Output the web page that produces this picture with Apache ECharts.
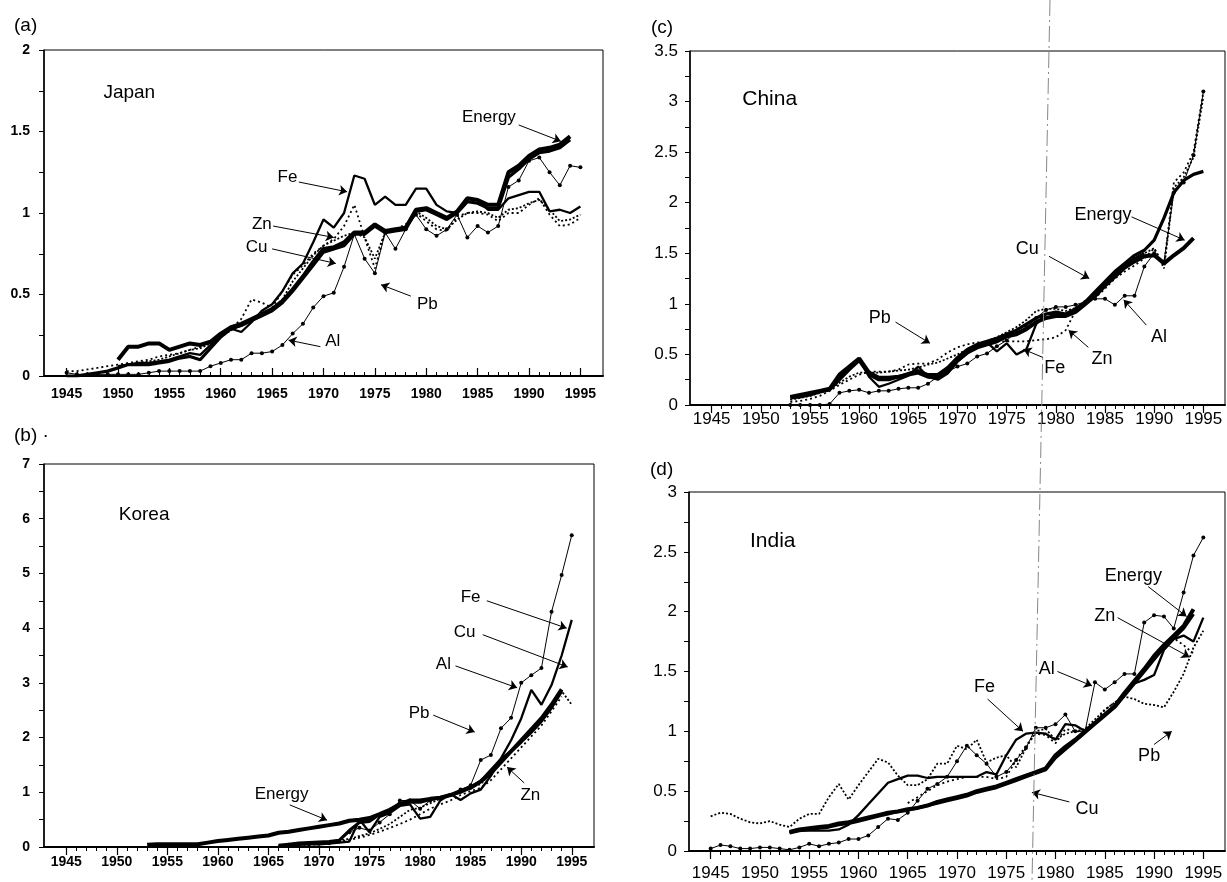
<!DOCTYPE html>
<html>
<head>
<meta charset="utf-8">
<script src="https://cdn.jsdelivr.net/npm/echarts@6/dist/echarts.min.js"></script>
<style>
  html, body { margin: 0; padding: 0; background: #fff; }
  #chart { width: 1227px; height: 882px; }
</style>
</head>
<body>
<div id="chart"></div>
<script>
  // x axis: labelled years and yearly ticks
  const yearLabels = [1945, 1950, 1955, 1960, 1965, 1970, 1975, 1980, 1985, 1990, 1995]
  const tickYears = []
  for (let y = 1945; y <= 1995; y++) tickYears.push(y)

  // (a) Japan
  const jpEnergy = [0.10, 0.18, 0.18, 0.20, 0.20, 0.16, 0.18, 0.20, 0.19, 0.21, 0.26, 0.30, 0.32, 0.35, 0.38, 0.41, 0.46, 0.53, 0.61, 0.70, 0.78, 0.79, 0.82, 0.88, 0.88, 0.93, 0.89, 0.90, 0.91, 1.02, 1.03, 1.00, 0.97, 1.01, 1.09, 1.08, 1.05, 1.05, 1.25, 1.29, 1.35, 1.39, 1.40, 1.42, 1.47] // 1950-1994
  const jpCu = [0.00, 0.00, 0.01, 0.02, 0.03, 0.05, 0.07, 0.07, 0.07, 0.08, 0.09, 0.11, 0.12, 0.10, 0.17, 0.24, 0.29, 0.31, 0.34, 0.37, 0.40, 0.45, 0.52, 0.60, 0.68, 0.76, 0.78, 0.80, 0.87, 0.87, 0.92, 0.88, 0.89, 0.90, 1.01, 1.02, 0.99, 0.96, 1.00, 1.07, 1.06, 1.03, 1.03, 1.22, 1.27, 1.33, 1.37, 1.38, 1.40, 1.45] // 1945-1994
  const jpFe = [0.06, 0.07, 0.08, 0.08, 0.09, 0.10, 0.12, 0.14, 0.13, 0.19, 0.25, 0.29, 0.27, 0.33, 0.40, 0.44, 0.52, 0.63, 0.69, 0.82, 0.96, 0.91, 1.00, 1.23, 1.21, 1.05, 1.10, 1.05, 1.05, 1.15, 1.15, 1.05, 1.01, 1.00, 1.09, 1.08, 1.02, 1.02, 1.09, 1.11, 1.13, 1.13, 1.01, 1.02, 1.00, 1.04] // 1950-1995
  const jpZn = [0.03, 0.03, 0.04, 0.05, 0.06, 0.07, 0.08, 0.09, 0.10, 0.12, 0.13, 0.14, 0.16, 0.18, 0.21, 0.25, 0.29, 0.35, 0.47, 0.45, 0.42, 0.52, 0.62, 0.68, 0.75, 0.80, 0.84, 0.92, 1.05, 0.85, 0.66, 0.88, 0.90, 0.93, 1.00, 0.95, 0.90, 0.89, 0.98, 1.00, 1.00, 0.99, 0.95, 1.00, 1.00, 1.05, 1.09, 0.99, 0.92, 0.93, 0.97] // 1945-1995
  const jpPb = [0.06, 0.07, 0.08, 0.09, 0.10, 0.12, 0.14, 0.16, 0.17, 0.20, 0.24, 0.28, 0.31, 0.35, 0.38, 0.41, 0.47, 0.58, 0.66, 0.74, 0.80, 0.83, 0.86, 0.88, 0.85, 0.72, 0.88, 0.89, 0.92, 1.01, 0.97, 0.92, 0.90, 0.96, 1.00, 1.01, 1.00, 0.97, 1.02, 1.03, 1.06, 1.08, 1.02, 0.95, 0.96, 0.99] // 1950-1995
  const jpAl = [0.02, 0.01, 0.01, 0.01, 0.01, 0.01, 0.01, 0.01, 0.02, 0.03, 0.03, 0.03, 0.03, 0.03, 0.06, 0.08, 0.10, 0.10, 0.14, 0.14, 0.15, 0.19, 0.26, 0.32, 0.42, 0.49, 0.51, 0.67, 0.87, 0.72, 0.63, 0.88, 0.78, 0.90, 0.99, 0.90, 0.86, 0.90, 0.99, 0.85, 0.92, 0.88, 0.92, 1.16, 1.20, 1.32, 1.34, 1.25, 1.17, 1.29, 1.28] // 1945-1995

  // (b) Korea
  const krEnergy = [0.04, 0.05, 0.05, 0.05, 0.05, 0.05, 0.08, 0.11, 0.13, 0.15, 0.17, 0.19, 0.21, 0.26, 0.28, 0.31, 0.34, 0.37, 0.40, 0.43, 0.48, 0.50, 0.53, 0.60, 0.68, 0.78, 0.85, 0.85, 0.88, 0.90, 0.95, 1.02, 1.08, 1.20, 1.35, 1.55, 1.75, 1.95, 2.15, 2.35, 2.60, 2.88] // 1953-1994
  const krCu = [0.03, 0.05, 0.07, 0.08, 0.09, 0.10, 0.12, 0.30, 0.45, 0.47, 0.60, 0.67, 0.80, 0.82, 0.82, 0.87, 0.90, 0.95, 1.00, 1.10, 1.20, 1.40, 1.60, 1.75, 1.92, 2.10, 2.30, 2.55, 2.85] // 1966-1994
  const krFe = [0.02, 0.03, 0.04, 0.05, 0.05, 0.06, 0.08, 0.10, 0.50, 0.27, 0.55, 0.62, 0.75, 0.78, 0.52, 0.55, 0.85, 0.97, 0.86, 0.98, 1.05, 1.30, 1.62, 1.95, 2.35, 2.87, 2.60, 2.96, 3.50, 4.15] // 1966-1995
  const krZn = [0.01, 0.02, 0.03, 0.04, 0.05, 0.07, 0.10, 0.13, 0.17, 0.22, 0.28, 0.35, 0.42, 0.50, 0.60, 0.70, 0.78, 0.85, 0.95, 1.02, 1.08, 1.22, 1.42, 1.62, 1.82, 2.02, 2.22, 2.48, 2.75] // 1966-1994
  const krPb = [0.02, 0.03, 0.04, 0.06, 0.08, 0.10, 0.12, 0.15, 0.20, 0.25, 0.33, 0.42, 0.55, 0.68, 0.72, 0.80, 0.88, 0.95, 1.00, 1.10, 1.15, 1.35, 1.55, 1.75, 1.95, 2.15, 2.35, 2.60, 2.85, 2.60] // 1966-1995
  const krAl = [0.04, 0.05, 0.05, 0.06, 0.07, 0.10, 0.27, 0.35, 0.30, 0.45, 0.60, 0.85, 0.85, 0.70, 0.85, 0.90, 0.95, 1.05, 1.13, 1.59, 1.68, 2.17, 2.36, 3.00, 3.14, 3.27, 4.30, 4.97, 5.70] // 1967-1995

  // (c) China
  const cnEnergy = [0.08, 0.10, 0.12, 0.14, 0.16, 0.30, 0.38, 0.46, 0.32, 0.27, 0.27, 0.28, 0.30, 0.32, 0.28, 0.27, 0.33, 0.44, 0.52, 0.57, 0.60, 0.63, 0.68, 0.70, 0.75, 0.82, 0.86, 0.88, 0.88, 0.92, 1.00, 1.08, 1.18, 1.27, 1.36, 1.42, 1.47, 1.48, 1.40, 1.48, 1.55, 1.65] // 1953-1994
  const cnCu = [0.07, 0.08, 0.10, 0.13, 0.15, 0.25, 0.35, 0.44, 0.30, 0.25, 0.25, 0.28, 0.31, 0.34, 0.30, 0.30, 0.37, 0.47, 0.55, 0.60, 0.63, 0.66, 0.70, 0.74, 0.80, 0.86, 0.90, 0.92, 0.90, 0.95, 1.02, 1.12, 1.22, 1.32, 1.40, 1.48, 1.53, 1.63, 1.85, 2.10, 2.22, 2.28, 2.31] // 1953-1995
  const cnFe = [0.08, 0.10, 0.12, 0.14, 0.16, 0.28, 0.37, 0.46, 0.28, 0.18, 0.21, 0.25, 0.29, 0.38, 0.28, 0.25, 0.31, 0.43, 0.51, 0.58, 0.62, 0.53, 0.61, 0.50, 0.55, 0.80, 0.90, 0.90, 0.89, 0.93, 1.01, 1.10, 1.20, 1.30, 1.38, 1.45, 1.50] // 1953-1989
  const cnZn = [0.03, 0.04, 0.06, 0.09, 0.14, 0.20, 0.25, 0.30, 0.33, 0.33, 0.33, 0.35, 0.40, 0.41, 0.41, 0.45, 0.52, 0.57, 0.60, 0.62, 0.62, 0.63, 0.63, 0.63, 0.63, 0.64, 0.65, 0.67, 0.74, 0.93, 1.00, 1.06, 1.15, 1.25, 1.32, 1.38, 1.45, 1.55, 1.38, 2.20, 2.30, 2.50, 3.10] // 1953-1995
  const cnPb = [0.05, 0.07, 0.09, 0.12, 0.15, 0.22, 0.28, 0.32, 0.32, 0.32, 0.33, 0.34, 0.35, 0.37, 0.40, 0.42, 0.46, 0.50, 0.55, 0.60, 0.63, 0.67, 0.72, 0.77, 0.84, 0.93, 0.95, 0.95, 0.93, 0.96, 1.02, 1.10, 1.20, 1.30, 1.38, 1.45, 1.50, 1.55, 1.35, 2.15, 2.25, 2.45, 3.05] // 1953-1995
  const cnAl = [0.00, 0.00, 0.00, 0.00, 0.01, 0.12, 0.14, 0.15, 0.12, 0.14, 0.14, 0.16, 0.17, 0.17, 0.21, 0.28, 0.33, 0.38, 0.41, 0.48, 0.51, 0.58, 0.64, 0.72, 0.77, 0.86, 0.94, 0.97, 0.97, 0.99, 1.02, 1.05, 1.05, 0.99, 1.08, 1.08, 1.37, 1.50, 1.42, 2.10, 2.20, 2.47, 3.10] // 1953-1995

  // (d) India
  const inEnergy = [0.16, 0.18, 0.19, 0.20, 0.21, 0.23, 0.24, 0.26, 0.28, 0.30, 0.32, 0.33, 0.35, 0.36, 0.38, 0.41, 0.43, 0.45, 0.47, 0.50, 0.52, 0.54, 0.57, 0.60, 0.63, 0.66, 0.69, 0.80, 0.87, 0.93, 1.00, 1.07, 1.14, 1.21, 1.32, 1.42, 1.52, 1.63, 1.72, 1.80, 1.88, 2.02] // 1953-1994
  const inCu = [0.15, 0.17, 0.18, 0.19, 0.20, 0.22, 0.23, 0.25, 0.27, 0.29, 0.31, 0.33, 0.34, 0.36, 0.38, 0.40, 0.42, 0.44, 0.46, 0.49, 0.51, 0.53, 0.56, 0.59, 0.62, 0.65, 0.68, 0.78, 0.85, 0.92, 0.99, 1.06, 1.13, 1.20, 1.30, 1.40, 1.50, 1.60, 1.70, 1.78, 1.86, 1.98] // 1953-1994
  const inFe = [0.16, 0.17, 0.17, 0.17, 0.17, 0.18, 0.22, 0.30, 0.39, 0.48, 0.57, 0.60, 0.63, 0.63, 0.61, 0.62, 0.62, 0.62, 0.62, 0.62, 0.66, 0.64, 0.80, 0.93, 0.98, 0.99, 0.98, 0.93, 1.06, 1.05, 1.00, 1.07, 1.14, 1.22, 1.32, 1.40, 1.43, 1.47, 1.68, 1.77, 1.80, 1.75, 1.95] // 1953-1995
  const inZn = [0.40, 0.45, 0.50, 0.55, 0.58, 0.60, 0.62, 0.62, 0.62, 0.60, 0.62, 0.76, 0.88, 0.98, 0.97, 0.90, 1.02, 1.00, 1.00, 1.07, 1.18, 1.24, 1.30, 1.40, 1.50, 1.60, 1.70, 1.78, 1.72, 1.65] // 1965-1994
  const inPb = [0.29, 0.32, 0.31, 0.27, 0.24, 0.23, 0.25, 0.22, 0.20, 0.27, 0.31, 0.31, 0.45, 0.56, 0.43, 0.55, 0.66, 0.77, 0.74, 0.63, 0.55, 0.55, 0.60, 0.73, 0.73, 0.88, 0.85, 0.93, 0.74, 0.78, 0.80, 0.70, 0.86, 1.00, 1.02, 0.93, 0.98, 1.00, 1.02, 1.10, 1.18, 1.24, 1.29, 1.27, 1.23, 1.22, 1.20, 1.33, 1.48, 1.70, 1.84] // 1945-1995
  const inAl = [0.02, 0.05, 0.04, 0.02, 0.02, 0.03, 0.03, 0.02, 0.01, 0.03, 0.06, 0.04, 0.06, 0.07, 0.10, 0.10, 0.13, 0.20, 0.27, 0.26, 0.32, 0.42, 0.52, 0.56, 0.62, 0.75, 0.88, 0.80, 0.73, 0.62, 0.66, 0.76, 0.86, 1.03, 1.03, 1.06, 1.14, 1.00, 1.00, 1.41, 1.35, 1.41, 1.48, 1.48, 1.91, 1.97, 1.96, 1.86, 2.16, 2.47, 2.62] // 1945-1995

  // annotations: [text, label x, label y, arrow from x, from y, arrow to x, to y]
  const jpNotes = [
    ['Energy', 1986.1, 1.59, 1989.0, 1.54, 1993.1, 1.44],
    ['Fe', 1966.5, 1.22, 1967.6, 1.19, 1972.3, 1.13],
    ['Zn', 1964.0, 0.93, 1965.1, 0.92, 1971.0, 0.85],
    ['Cu', 1963.5, 0.79, 1965.0, 0.78, 1971.2, 0.69],
    ['Pb', 1980.1, 0.44, 1978.5, 0.49, 1975.6, 0.56],
    ['Al', 1970.9, 0.21, 1969.7, 0.18, 1966.6, 0.22]
  ]
  const krNotes = [
    ['Energy', 1966.3, 0.97, 1967.1, 0.77, 1970.8, 0.49],
    ['Fe', 1985.0, 4.57, 1986.6, 4.50, 1994.5, 4.00],
    ['Cu', 1984.4, 3.93, 1986.2, 3.88, 1994.6, 3.29],
    ['Al', 1982.3, 3.33, 1983.5, 3.31, 1989.6, 2.91],
    ['Pb', 1979.9, 2.45, 1981.3, 2.41, 1985.4, 2.10],
    ['Zn', 1990.9, 0.95, 1990.3, 1.17, 1988.6, 1.46]
  ]
  const cnNotes = [
    ['Energy', 1984.8, 1.88, 1987.7, 1.86, 1993.1, 1.63],
    ['Cu', 1977.1, 1.54, 1979.3, 1.47, 1983.4, 1.25],
    ['Pb', 1962.1, 0.86, 1963.7, 0.82, 1967.2, 0.61],
    ['Zn', 1984.7, 0.45, 1983.3, 0.57, 1981.3, 0.74],
    ['Al', 1990.5, 0.67, 1989.2, 0.79, 1986.9, 1.04],
    ['Fe', 1979.9, 0.37, 1978.7, 0.47, 1976.7, 0.55]
  ]
  const inNotes = [
    ['Energy', 1987.9, 2.30, 1989.4, 2.21, 1993.3, 1.96],
    ['Zn', 1985.0, 1.96, 1986.3, 1.95, 1993.6, 1.62],
    ['Al', 1979.1, 1.52, 1980.2, 1.50, 1983.7, 1.38],
    ['Fe', 1972.8, 1.37, 1973.1, 1.27, 1976.7, 1.00],
    ['Cu', 1983.2, 0.35, 1981.4, 0.41, 1977.6, 0.49],
    ['Pb', 1989.5, 0.79, 1990.0, 0.89, 1991.8, 1.00]
  ]

  const lineLook = {
    Energy: { width: 4, type: 'solid' },
    Cu: { width: 3.2, type: 'solid' },
    Fe: { width: 2.3, type: 'solid' },
    Zn: { width: 1.8, type: [2, 3] },
    Pb: { width: 1.8, type: [2, 2] },
    Al: { width: 1, type: 'solid' }
  }

  const panels = [
    {
      letter: '(a)', letterPos: [14, 16], country: ['Japan', 1951.1, 1.74],
      grid: { left: 44, top: 50, width: 559, height: 326 },
      yMax: 2, yStep: 0.25, yLabelStep: 0.5, small: true, tickInside: true, labelMargin: 11,
      series: [['Zn', 1945, jpZn], ['Pb', 1950, jpPb], ['Al', 1945, jpAl], ['Cu', 1945, jpCu], ['Fe', 1950, jpFe], ['Energy', 1950, jpEnergy]],
      notes: jpNotes
    },
    {
      letter: '(b) ·', letterPos: [14, 426], country: ['Korea', 1952.7, 6.07],
      grid: { left: 44, top: 464, width: 550, height: 383 },
      yMax: 7, yStep: 0.5, yLabelStep: 1, small: true, tickInside: false, labelMargin: 8,
      series: [['Zn', 1966, krZn], ['Pb', 1966, krPb], ['Al', 1967, krAl], ['Cu', 1966, krCu], ['Fe', 1966, krFe], ['Energy', 1953, krEnergy]],
      notes: krNotes
    },
    {
      letter: '(c)', letterPos: [651, 18], country: ['China', 1950.9, 3.02],
      grid: { left: 690, top: 51, width: 535, height: 354 },
      yMax: 3.5, yStep: 0.25, yLabelStep: 0.5, small: false, tickInside: false, labelMargin: 6,
      series: [['Zn', 1953, cnZn], ['Pb', 1953, cnPb], ['Al', 1953, cnAl], ['Fe', 1953, cnFe], ['Cu', 1953, cnCu], ['Energy', 1953, cnEnergy]],
      notes: cnNotes
    },
    {
      letter: '(d)', letterPos: [650, 460], country: ['India', 1951.3, 2.59],
      grid: { left: 689, top: 492, width: 536, height: 360 },
      yMax: 3, yStep: 0.25, yLabelStep: 0.5, small: false, tickInside: false, labelMargin: 14,
      series: [['Zn', 1965, inZn], ['Pb', 1945, inPb], ['Al', 1945, inAl], ['Fe', 1953, inFe], ['Cu', 1953, inCu], ['Energy', 1953, inEnergy]],
      notes: inNotes
    }
  ]

  const xMin = 1942.8
  const xMax = 1997.2
  const fontName = 'Liberation Sans'

  function pts (start, arr) {
    return arr.map(function (v, i) { return [start + i, v] })
  }

  function onStep (v, step) {
    let r = v / step
    return Math.abs(r - Math.round(r)) < 1e-6
  }

  let grids = []
  let xAxes = []
  let yAxes = []
  let series = []
  let graphics = []

  panels.forEach(function (p, i) {
    grids.push(Object.assign({ show: true, borderColor: '#000', borderWidth: 1, backgroundColor: 'transparent' }, p.grid))

    let labelFont = p.small
      ? { fontSize: 14, fontWeight: 'bold' }
      : { fontSize: 17, fontWeight: 'normal' }

    xAxes.push({
      type: 'value', gridIndex: i, min: xMin, max: xMax, position: 'bottom',
      axisLine: { show: true, onZero: false, lineStyle: { color: '#000', width: 2 } },
      axisTick: { show: true, inside: p.tickInside, length: 8, customValues: yearLabels, lineStyle: { color: '#000', width: 1.2 } },
      axisLabel: Object.assign({
        customValues: yearLabels, color: '#000', fontFamily: fontName, margin: p.labelMargin,
        formatter: function (v) { return String(Math.round(v)) }
      }, labelFont),
      splitLine: { show: false }
    })
    xAxes.push({
      type: 'value', gridIndex: i, min: xMin, max: xMax, position: 'bottom',
      axisLine: { show: false, onZero: false },
      axisTick: { show: true, inside: p.tickInside, length: 4, customValues: tickYears, lineStyle: { color: '#000', width: 1 } },
      axisLabel: { show: false },
      splitLine: { show: false }
    })
    yAxes.push({
      type: 'value', gridIndex: i, min: 0, max: p.yMax, interval: p.yStep,
      axisLine: { show: true, lineStyle: { color: '#000', width: 1.5 } },
      axisTick: { show: true, length: 5, lineStyle: { color: '#000' } },
      axisLabel: Object.assign({
        color: '#000', fontFamily: fontName, margin: p.small ? 14 : 12,
        formatter: function (v) { return onStep(v, p.yLabelStep) ? String(v) : '' }
      }, labelFont),
      splitLine: { show: false }
    })

    p.series.forEach(function (s) {
      let look = lineLook[s[0]]
      let isAl = s[0] === 'Al'
      series.push({
        name: s[0], type: 'line', xAxisIndex: i * 2, yAxisIndex: i,
        data: pts(s[1], s[2]),
        symbol: isAl ? 'circle' : 'none', symbolSize: 4, showSymbol: isAl,
        lineStyle: { color: '#000', width: look.width, type: look.type },
        itemStyle: { color: '#000' },
        silent: true, animation: false
      })
    })

    // arrows and text labels, placed in data coordinates
    series.push({
      type: 'line', xAxisIndex: i * 2, yAxisIndex: i, data: [], silent: true, animation: false, z: 5,
      markLine: {
        silent: true, animation: false, symbol: ['none', 'arrow'], symbolSize: 8,
        lineStyle: { color: '#000', width: 1, type: 'solid' },
        label: { show: false },
        data: p.notes.map(function (n) { return [{ coord: [n[3], n[4]] }, { coord: [n[5], n[6]] }] })
      },
      markPoint: {
        silent: true, animation: false, symbol: 'circle', symbolSize: 1,
        itemStyle: { color: 'rgba(0,0,0,0)' },
        label: { show: true, position: 'inside', formatter: '{b}', color: '#000', fontFamily: fontName, fontSize: p.small ? 17 : 18 },
        data: p.notes.map(function (n) { return { name: n[0], coord: [n[1], n[2]] } }).concat([
          { name: p.country[0], coord: [p.country[1], p.country[2]], label: { fontSize: p.small ? 19 : 21 } }
        ])
      }
    })

    graphics.push({
      type: 'text', left: p.letterPos[0], top: p.letterPos[1],
      style: { text: p.letter, fill: '#000', font: '19px "Liberation Sans"' }
    })
  })

  // thin dash-dot guide line crossing the right-hand panels
  graphics.push({
    type: 'line', shape: { x1: 1050, y1: 0, x2: 1032, y2: 882 },
    style: { stroke: '#888', lineWidth: 1, lineDash: [16, 4, 2, 4] }, z: 10
  })

  let chart = echarts.init(document.getElementById('chart'))
  chart.setOption({
    backgroundColor: '#fff',
    animation: false,
    grid: grids,
    xAxis: xAxes,
    yAxis: yAxes,
    series: series,
    graphic: graphics
  })
</script>
</body>
</html>
